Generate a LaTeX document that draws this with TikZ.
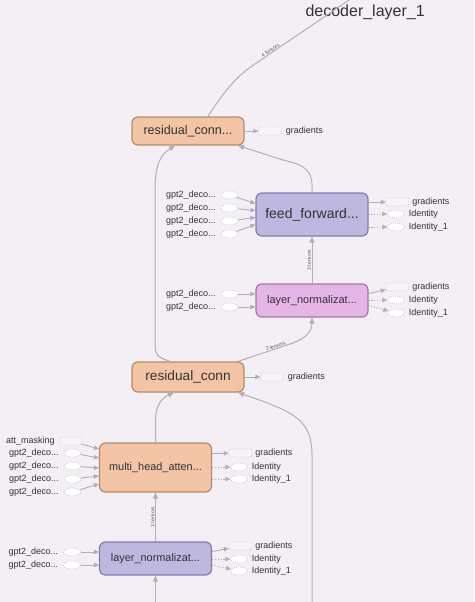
\documentclass[tikz,border=0pt]{standalone}
\usepackage{fontspec}
\setmainfont{Liberation Sans}
\usetikzlibrary{arrows.meta,shapes.geometric,positioning}
\definecolor{bgcol}{HTML}{F4EFF5}
\definecolor{edgecol}{HTML}{B3AEB6}
\definecolor{phcol}{HTML}{B8B4BA}
\definecolor{peach}{HTML}{F3C5A6}
\definecolor{peachline}{HTML}{B38A6E}
\definecolor{lav}{HTML}{BEB7DF}
\definecolor{lavline}{HTML}{857CAD}
\definecolor{pinkop}{HTML}{E5B5E8}
\definecolor{pinkline}{HTML}{A378A6}
\definecolor{txt}{HTML}{333333}

\begin{document}
\begin{tikzpicture}[
  x=1pt, y=-1pt,
  op/.style={draw, rounded corners=6pt, line width=1.2pt, minimum width=112pt,
    inner sep=0pt, text=txt},
  edge/.style={draw=edgecol, line width=1pt, -{Triangle[length=6pt,width=5pt]}},
  small/.style={draw=edgecol, line width=0.9pt, -{Triangle[length=5pt,width=4.5pt]}},
  dots/.style={small, dash pattern=on 1.2pt off 1.6pt},
  ph/.style={ellipse, draw=phcol, dash pattern=on 1pt off 1pt, fill=white,
    minimum width=17pt, minimum height=8pt, inner sep=0pt},
  phbox/.style={rectangle, rounded corners=2pt, draw=phcol, dash pattern=on 1pt off 1pt,
    fill=black!4, minimum width=23pt, minimum height=8pt, inner sep=0pt},
  lbl/.style={font=\fontsize{9}{10}\selectfont, text=txt, inner sep=0pt},
  tens/.style={font=\fontsize{5}{6}\selectfont, text=txt!80, inner sep=0.5pt},
]
  \fill[bgcol] (0,0) rectangle (474,602);
  \useasboundingbox (0,0) rectangle (474,602);

  \node[text=txt, font=\fontsize{16}{18}\selectfont, anchor=west] (title) at (302,12) {decoder\_layer\_1};

  % main ops
  \node[op, fill=peach, draw=peachline, minimum height=28pt, font=\fontsize{12.6}{14}\selectfont]
    (rc1) at (188,131) {residual\_conn...};
  \node[op, fill=lav, draw=lavline, minimum height=43pt, font=\fontsize{14}{16}\selectfont]
    (ff) at (312,214.5) {feed\_forward...};
  \node[op, fill=pinkop, draw=pinkline, minimum height=33pt, font=\fontsize{11}{13}\selectfont]
    (ln1) at (312,300.5) {layer\_normalizat...};
  \node[op, fill=peach, draw=peachline, minimum height=30pt, font=\fontsize{13.7}{16}\selectfont]
    (rc2) at (188,377) {residual\_conn};
  \node[op, fill=peach, draw=peachline, minimum height=49pt, font=\fontsize{10.9}{13}\selectfont]
    (mha) at (155.5,467.5) {multi\_head\_atten...};
  \node[op, fill=lav, draw=lavline, minimum height=33pt, font=\fontsize{10.9}{13}\selectfont]
    (ln2) at (155.5,558.5) {layer\_normalizat...};

  \coordinate (top) at (352,-2);
  \coordinate (bot1) at (155.5,604);
  \coordinate (bot2) at (312,604);

  % gradients of the residual ops
  \node[phbox] (rc1g) at (270,131) {};
  \node[lbl, right=4pt of rc1g] (rc1gl) {gradients};
  \draw[small] (rc1) -- (rc1g);
  \node[phbox] (rc2g) at (272,377) {};
  \node[lbl, right=4pt of rc2g] (rc2gl) {gradients};
  \draw[small] (rc2) -- (rc2g);

  % feed_forward inputs / outputs
  \foreach \i/\y/\s in {1/195/11,2/208/4,3/221/-3,4/234/-10} {
    \node[ph] (ffin\i) at (229.5,\y) {};
    \node[lbl, left=5pt of ffin\i] (ffinl\i) {gpt2\_deco...};
    \draw[small] (ffin\i) -- ([yshift=\s pt]ff.west);
  }
  \node[phbox] (ffg) at (397.5,202) {};
  \node[lbl, right=3pt of ffg] (ffgl) {gradients};
  \node[ph] (ffo1) at (396,214) {};
  \node[lbl, right=4pt of ffo1] (ffol1) {Identity};
  \node[ph] (ffo2) at (396,227) {};
  \node[lbl, right=4pt of ffo2] (ffol2) {Identity\_1};
  \draw[small] ([yshift=12.5pt]ff.east) -- (ffg);
  \draw[dots] ([yshift=0.5pt]ff.east) -- (ffo1);
  \draw[dots] ([yshift=-12.5pt]ff.east) -- (ffo2);

  % layer_normalizat (upper) inputs / outputs
  \foreach \i/\y in {1/294,2/307} {
    \node[ph] (ln1in\i) at (229.5,\y) {};
    \node[lbl, left=5pt of ln1in\i] (ln1inl\i) {gpt2\_deco...};
    \draw[small] (ln1in\i) -- (ln1.west |- ln1in\i);
  }
  \node[phbox] (ln1g) at (397.5,287) {};
  \node[lbl, right=3pt of ln1g] (ln1gl) {gradients};
  \node[ph] (ln1o1) at (396,300) {};
  \node[lbl, right=4pt of ln1o1] (ln1ol1) {Identity};
  \node[ph] (ln1o2) at (396,313) {};
  \node[lbl, right=4pt of ln1o2] (ln1ol2) {Identity\_1};
  \draw[small] ([yshift=7pt]ln1.east) -- (ln1g);
  \draw[dots] ([yshift=0.5pt]ln1.east) -- (ln1o1);
  \draw[dots] ([yshift=-5pt]ln1.east) -- (ln1o2);

  % multi_head_atten inputs / outputs
  \node[phbox, minimum width=22pt] (mhain0) at (71,441) {};
  \node[lbl, left=5pt of mhain0] (mhainl0) {att\_masking};
  \draw[small] (mhain0) -- ([yshift=18.5pt]mha.west);
  \foreach \i/\y/\s in {1/453/9.5,2/466/-0.5,3/479/-8.5,4/492/-16.5} {
    \node[ph] (mhain\i) at (72.5,\y) {};
    \node[lbl, left=5pt of mhain\i] (mhainl\i) {gpt2\_deco...};
    \draw[small] (mhain\i) -- ([yshift=\s pt]mha.west);
  }
  \node[phbox] (mhag) at (240.5,453) {};
  \node[lbl, right=3pt of mhag] (mhagl) {gradients};
  \node[ph] (mhao1) at (239,467) {};
  \node[lbl, right=4pt of mhao1] (mhaol1) {Identity};
  \node[ph] (mhao2) at (239,479) {};
  \node[lbl, right=4pt of mhao2] (mhaol2) {Identity\_1};
  \draw[small] ([yshift=14pt]mha.east) -- (mhag);
  \draw[dots] (mha.east |- mhao1) -- (mhao1);
  \draw[dots] (mha.east |- mhao2) -- (mhao2);

  % layer_normalizat (lower) inputs / outputs
  \foreach \i/\y in {1/552,2/565} {
    \node[ph] (ln2in\i) at (72,\y) {};
    \node[lbl, left=5pt of ln2in\i] (ln2inl\i) {gpt2\_deco...};
    \draw[small] (ln2in\i) -- (ln2.west |- ln2in\i);
  }
  \node[phbox] (ln2g) at (240.5,546) {};
  \node[lbl, right=3pt of ln2g] (ln2gl) {gradients};
  \node[ph] (ln2o1) at (239,559) {};
  \node[lbl, right=4pt of ln2o1] (ln2ol1) {Identity};
  \node[ph] (ln2o2) at (239,571) {};
  \node[lbl, right=4pt of ln2o2] (ln2ol2) {Identity\_1};
  \draw[small] ([yshift=7pt]ln2.east) -- (ln2g);
  \draw[dots] (ln2.east |- ln2o1) -- (ln2o1);
  \draw[dots] ([yshift=-6.5pt]ln2.east) -- (ln2o2);

  % data flow
  \draw[edge, -] ([xshift=20pt]rc1.north) .. controls (220,98) and (232,80) .. (252,66)
    -- node[tens, sloped, above=0pt, pos=0.2] (t4) {4 tensors} (top);
  \draw[edge] ([xshift=-18pt]rc2.north) .. controls (155,356) .. (155,335)
    -- (155,190) .. controls (155,162) and (162,154) .. ([xshift=-13pt]rc1.south);
  \draw[edge] (ff.north) -- (312,185) .. controls (312,168) and (300,164) .. (283,160)
    -- ([xshift=50pt]rc1.south);
  \draw[edge] (ln1.north) -- node[tens, sloped, above=0pt] (t3a) {3 tensors} (ff.south);
  \draw[edge] ([xshift=50pt]rc2.north) -- node[tens, sloped, above=0pt, pos=0.7] (t3b) {3 tensors}
    (293,343) .. controls (308,337) and (312,330) .. (ln1.south);
  \draw[edge] (mha.north) -- (155.5,420) .. controls (155.5,405) and (162,398) .. ([xshift=-14pt]rc2.south);
  \draw[edge] (bot2) -- (312,455) .. controls (312,420) and (295,412) .. ([xshift=50pt]rc2.south);
  \draw[edge] (ln2.north) -- node[tens, sloped, above=0pt] (t3c) {3 tensors} (mha.south);
  \draw[edge] (bot1) -- (ln2.south);
\end{tikzpicture}
\end{document}
